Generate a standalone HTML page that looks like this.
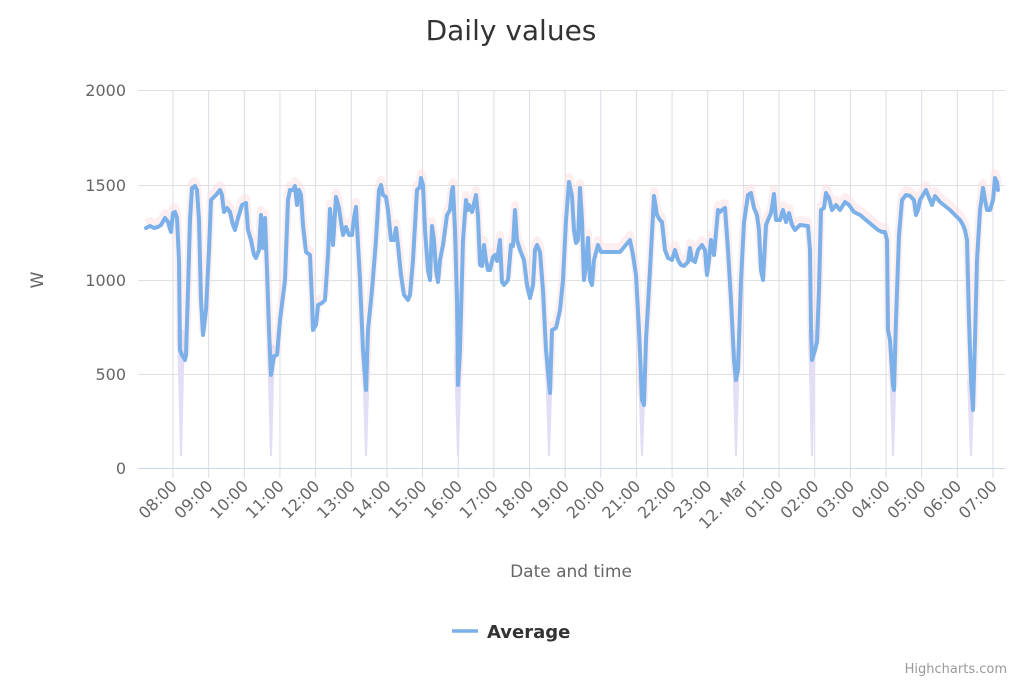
<!DOCTYPE html>
<html><head><meta charset="utf-8"><style>
body{margin:0;background:#fff;}
svg{display:block;font-family:"DejaVu Sans","Liberation Sans",sans-serif;}
</style></head><body>
<svg width="1024" height="683" viewBox="0 0 1024 683">
<text x="511" y="40" text-anchor="middle" font-size="28" fill="#333">Daily values</text>
<g stroke="#e0e0e0" stroke-width="1">
<line x1="138" x2="1005" y1="90.5" y2="90.5"/><line x1="138" x2="1005" y1="185.5" y2="185.5"/><line x1="138" x2="1005" y1="280.5" y2="280.5"/><line x1="138" x2="1005" y1="374.5" y2="374.5"/>
</g>
<g id="vg" stroke="#dcdce6" stroke-width="1"></g>
<line x1="138" x2="1005" y1="468.5" y2="468.5" stroke="#ccd6eb"/>
<g font-size="16" fill="#666" text-anchor="end">
<text x="126" y="96">2000</text><text x="126" y="191">1500</text><text x="126" y="286">1000</text><text x="126" y="380">500</text><text x="126" y="474">0</text>
</g>
<text x="43" y="280" font-size="17" fill="#666" text-anchor="middle" transform="rotate(-90 43 280)">W</text>
<g id="xl" font-size="16" fill="#666" text-anchor="end"></g>
<text x="571" y="577" font-size="17" fill="#666" text-anchor="middle">Date and time</text>
<g id="spk" fill="#e3def5"></g>
<polyline id="pk" fill="none" stroke="#fbdde2" stroke-opacity="0.5" stroke-width="8" stroke-linejoin="round"/>
<polyline id="ln" fill="none" stroke="#7cb0e8" stroke-width="4" stroke-linejoin="round" stroke-linecap="round"/>
<line x1="452" x2="478" y1="631" y2="631" stroke="#7cb0e8" stroke-width="3.5"/>
<text x="487" y="638" font-size="18" font-weight="bold" fill="#333">Average</text>
<text x="1007" y="673" font-size="13" fill="#999" text-anchor="end">Highcharts.com</text>
</svg>
<script>
var ns="http://www.w3.org/2000/svg";
var labels=["08:00","09:00","10:00","11:00","12:00","13:00","14:00","15:00","16:00","17:00","18:00","19:00","20:00","21:00","22:00","23:00","12. Mar","01:00","02:00","03:00","04:00","05:00","06:00","07:00"];
var vg=document.getElementById("vg"),xl=document.getElementById("xl");
labels.forEach(function(l,i){var x=173+35.65*i;
var ln=document.createElementNS(ns,"line");ln.setAttribute("x1",x);ln.setAttribute("x2",x);ln.setAttribute("y1",90);ln.setAttribute("y2",478);vg.appendChild(ln);
var t=document.createElementNS(ns,"text");t.setAttribute("x",x+5);t.setAttribute("y",487);t.setAttribute("transform","rotate(-45 "+(x+5)+" 487)");t.textContent=l;xl.appendChild(t);});
var pts="146,228 150,226 154,228 158,227 161,225 165,218 168,222 171,232 173,213 175,212 177,218 179,260 180,350 182,355 185,360 186,355 188,290 190,220 192,188 195,186 197,190 199,220 201,300 203,335 206,310 209,250 211,200 213,198 216,195 220,190 222,195 224,212 227,208 230,212 233,225 235,230 238,218 242,205 246,203 248,230 251,240 254,255 256,258 259,250 261,215 263,248 265,218 267,270 269,330 271,375 274,356 277,355 280,320 285,280 288,200 290,190 293,190 295,186 297,205 299,190 301,195 303,225 306,252 310,255 312,300 313,330 316,325 318,305 322,303 325,300 328,255 330,209 333,245 336,197 339,208 341,222 343,235 346,227 349,235 352,235 354,218 356,207 360,280 363,350 366,390 368,330 372,290 376,240 379,190 381,185 383,195 386,197 388,210 391,240 394,240 396,228 398,245 401,275 404,295 408,300 410,295 413,260 415,225 417,190 420,187 421,178 423,185 425,230 428,270 430,280 432,226 434,240 436,270 438,282 440,260 443,245 447,215 450,210 452,190 453,187 455,230 457,300 458,385 460,350 463,240 466,200 468,210 469,205 472,212 476,195 478,216 480,265 482,266 484,245 486,260 488,270 490,270 493,257 495,255 497,261 500,240 502,282 504,285 508,280 511,245 513,246 515,210 517,240 520,250 524,260 527,285 530,298 533,285 535,250 537,245 540,252 543,290 546,350 550,393 552,330 556,328 560,310 563,280 566,220 569,182 572,196 574,230 576,243 578,240 580,188 582,220 584,280 586,265 588,238 590,280 592,285 594,260 598,245 601,252 605,252 615,252 620,252 630,240 633,255 636,275 639,330 642,400 644,405 646,340 650,270 654,196 657,215 660,220 662,222 665,250 668,258 672,260 675,250 678,260 681,265 684,266 688,262 690,248 692,260 695,262 698,250 702,245 705,250 707,275 709,260 711,240 714,255 718,210 720,212 722,210 725,208 728,250 731,300 734,360 736,380 738,370 741,280 744,222 748,195 751,193 754,208 757,215 759,230 761,270 763,280 766,225 768,220 771,213 774,194 776,220 780,220 783,210 786,222 789,213 792,225 795,230 800,225 808,226 810,250 811,330 812,360 815,350 817,342 819,290 821,210 824,208 826,193 829,198 832,210 836,205 840,210 845,202 849,205 854,212 860,215 866,220 872,225 878,230 882,232 885,232 887,240 888,330 890,340 893,385 894,390 896,320 899,235 902,200 906,195 910,196 914,200 916,215 918,210 920,200 923,195 926,190 930,200 932,205 935,196 940,202 950,210 955,215 960,220 963,225 965,230 967,240 969,320 971,380 973,410 975,340 977,260 980,210 983,188 985,200 987,210 990,210 993,200 995,178 997,182 998,190";
document.getElementById("ln").setAttribute("points",pts);
document.getElementById("pk").setAttribute("points",pts.split(" ").map(function(p){var a=p.split(",");return a[0]+","+(a[1]-5);}).join(" "));
var spk=document.getElementById("spk");
[[181,360],[271,375],[366,390],[458,385],[549,393],[642,405],[736,380],[812,360],[893,390],[971,410]].forEach(function(s){
var p=document.createElementNS(ns,"polygon");p.setAttribute("points",(s[0]-4)+","+(s[1]-30)+" "+(s[0]+4)+","+(s[1]-30)+" "+(s[0]+1)+",456 "+(s[0]-1)+",456");spk.appendChild(p);});
</script>
</body></html>
